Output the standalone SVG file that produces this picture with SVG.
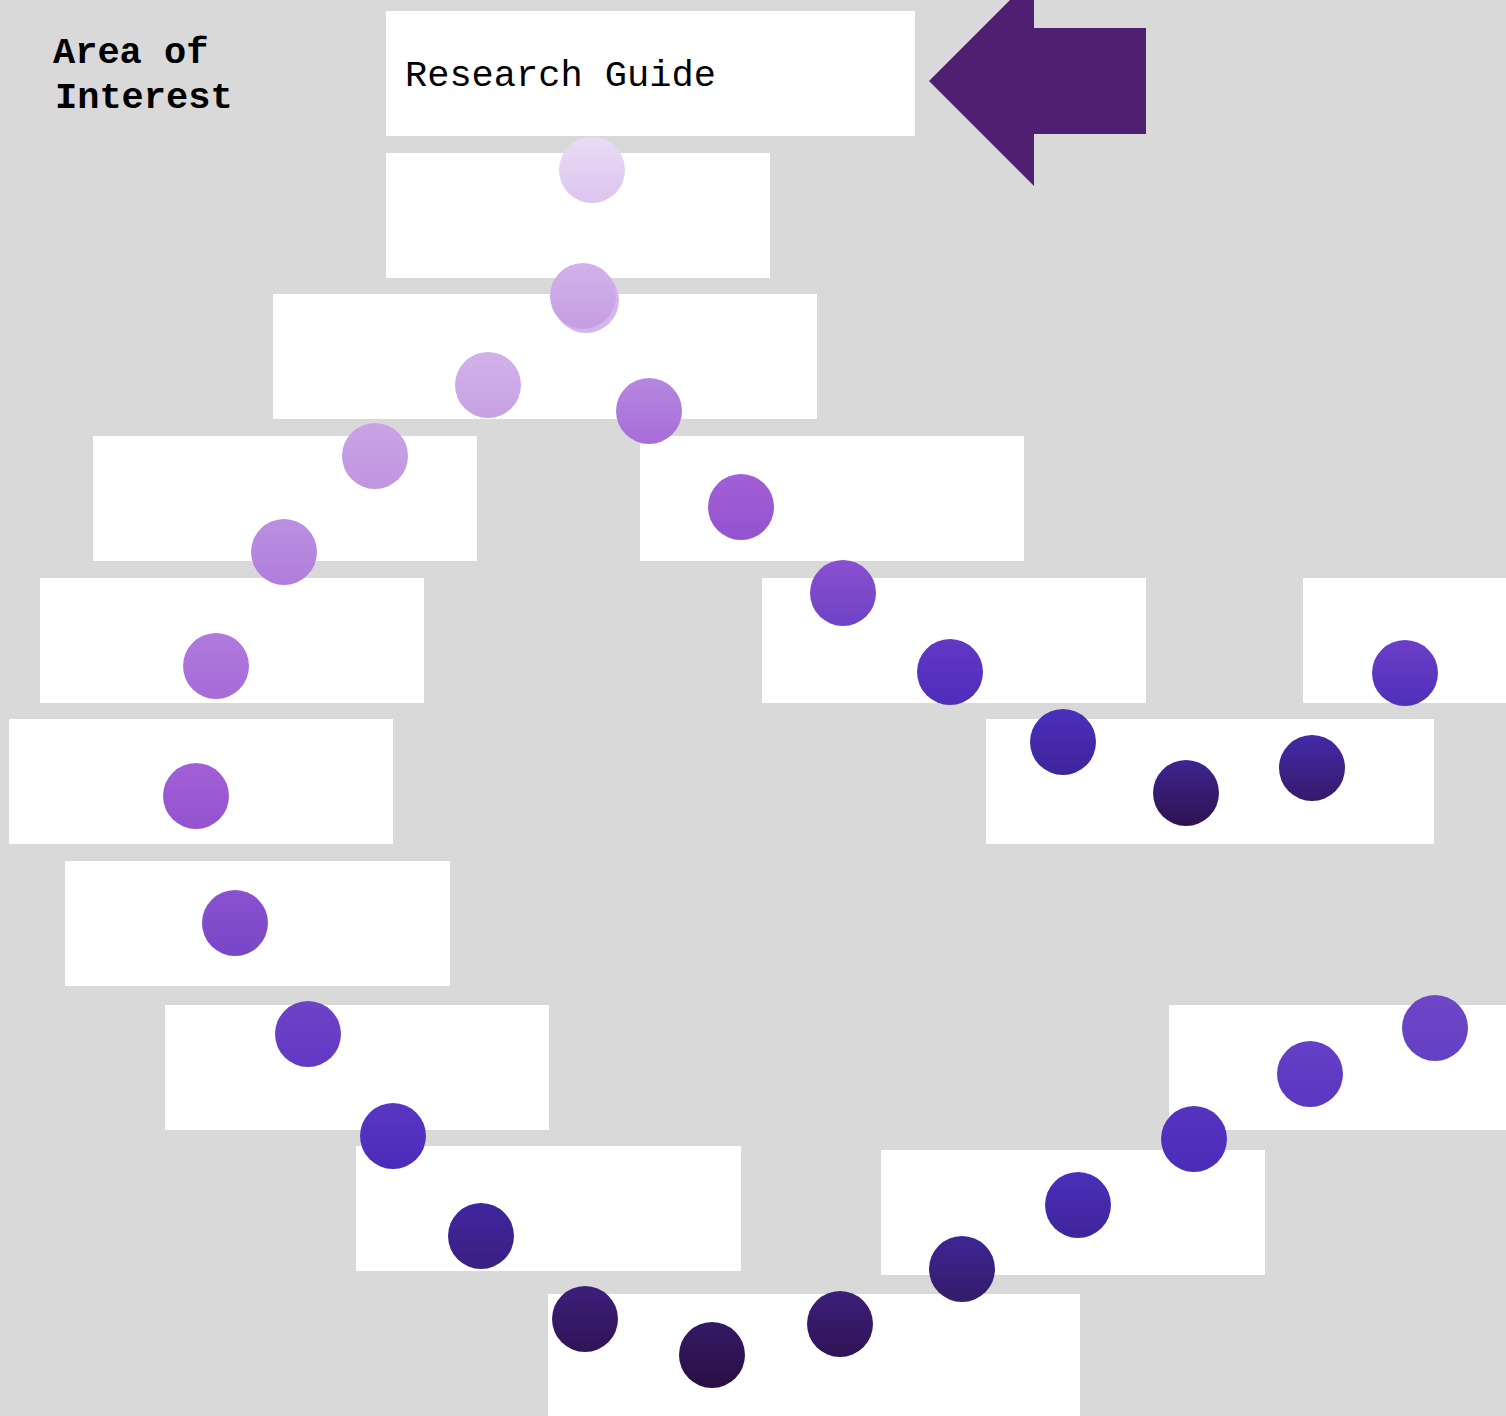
<svg xmlns="http://www.w3.org/2000/svg" width="1506" height="1416" viewBox="0 0 1506 1416">
<defs>
<style>
.box{fill:#ffffff}
.lbl{font-family:"Liberation Mono","Courier New",monospace;font-size:37px;fill:#000000}
.b{font-weight:bold}
</style>
<linearGradient id="g1" x1="0" y1="0" x2="0" y2="1"><stop offset="0" stop-color="#e9dbf5"/><stop offset="1" stop-color="#dcc4ef"/></linearGradient>
<linearGradient id="g2" x1="0" y1="0" x2="0" y2="1"><stop offset="0" stop-color="#d2b2ea"/><stop offset="1" stop-color="#c59ee3"/></linearGradient>
<linearGradient id="g3" x1="0" y1="0" x2="0" y2="1"><stop offset="0" stop-color="#d2b2ea"/><stop offset="1" stop-color="#c7a1e3"/></linearGradient>
<linearGradient id="g5" x1="0" y1="0" x2="0" y2="1"><stop offset="0" stop-color="#c9a3e6"/><stop offset="1" stop-color="#c095e0"/></linearGradient>
<linearGradient id="g7" x1="0" y1="0" x2="0" y2="1"><stop offset="0" stop-color="#bb90e0"/><stop offset="1" stop-color="#b17ddd"/></linearGradient>
<linearGradient id="g9" x1="0" y1="0" x2="0" y2="1"><stop offset="0" stop-color="#b07bdc"/><stop offset="1" stop-color="#a66ad8"/></linearGradient>
<linearGradient id="g4" x1="0" y1="0" x2="0" y2="1"><stop offset="0" stop-color="#b588de"/><stop offset="1" stop-color="#a86cd9"/></linearGradient>
<linearGradient id="g6" x1="0" y1="0" x2="0" y2="1"><stop offset="0" stop-color="#a260d6"/><stop offset="1" stop-color="#9353cf"/></linearGradient>
<linearGradient id="g8" x1="0" y1="0" x2="0" y2="1"><stop offset="0" stop-color="#8a50cf"/><stop offset="1" stop-color="#6f42c6"/></linearGradient>
<linearGradient id="g16" x1="0" y1="0" x2="0" y2="1"><stop offset="0" stop-color="#8a52cf"/><stop offset="1" stop-color="#7746c7"/></linearGradient>
<linearGradient id="g17" x1="0" y1="0" x2="0" y2="1"><stop offset="0" stop-color="#6d44c7"/><stop offset="1" stop-color="#6238c4"/></linearGradient>
<linearGradient id="g10" x1="0" y1="0" x2="0" y2="1"><stop offset="0" stop-color="#6238c4"/><stop offset="1" stop-color="#4f2cba"/></linearGradient>
<linearGradient id="g11" x1="0" y1="0" x2="0" y2="1"><stop offset="0" stop-color="#6b40c6"/><stop offset="1" stop-color="#4f2fbb"/></linearGradient>
<linearGradient id="g18" x1="0" y1="0" x2="0" y2="1"><stop offset="0" stop-color="#7045c7"/><stop offset="1" stop-color="#6340c4"/></linearGradient>
<linearGradient id="g19" x1="0" y1="0" x2="0" y2="1"><stop offset="0" stop-color="#6540c6"/><stop offset="1" stop-color="#5a36c2"/></linearGradient>
<linearGradient id="g20" x1="0" y1="0" x2="0" y2="1"><stop offset="0" stop-color="#5a36c2"/><stop offset="1" stop-color="#4a2cba"/></linearGradient>
<linearGradient id="g21" x1="0" y1="0" x2="0" y2="1"><stop offset="0" stop-color="#5534bf"/><stop offset="1" stop-color="#4a2cba"/></linearGradient>
<linearGradient id="g13" x1="0" y1="0" x2="0" y2="1"><stop offset="0" stop-color="#4a2fbc"/><stop offset="1" stop-color="#3f2599"/></linearGradient>
<linearGradient id="g22" x1="0" y1="0" x2="0" y2="1"><stop offset="0" stop-color="#40269f"/><stop offset="1" stop-color="#3a2080"/></linearGradient>
<linearGradient id="g24" x1="0" y1="0" x2="0" y2="1"><stop offset="0" stop-color="#3f2595"/><stop offset="1" stop-color="#331c6a"/></linearGradient>
<linearGradient id="g15" x1="0" y1="0" x2="0" y2="1"><stop offset="0" stop-color="#432aa8"/><stop offset="1" stop-color="#37196a"/></linearGradient>
<linearGradient id="g14" x1="0" y1="0" x2="0" y2="1"><stop offset="0" stop-color="#3e2590"/><stop offset="1" stop-color="#2e1250"/></linearGradient>
<linearGradient id="g25" x1="0" y1="0" x2="0" y2="1"><stop offset="0" stop-color="#3c1f7a"/><stop offset="1" stop-color="#2f1456"/></linearGradient>
<linearGradient id="g26" x1="0" y1="0" x2="0" y2="1"><stop offset="0" stop-color="#331a64"/><stop offset="1" stop-color="#2a0e44"/></linearGradient>
</defs>
<rect x="0" y="0" width="1506" height="1416" fill="#d9d9d9"/>
<g id="boxes">
<g id="box1"><rect class="box" x="386" y="11" width="529" height="125"/><text class="lbl" x="405" y="86">Research Guide</text></g>
<g id="box2"><rect class="box" x="386" y="153" width="384" height="125"/></g>
<g id="box3"><rect class="box" x="273" y="294" width="544" height="125"/></g>
<g id="box4"><rect class="box" x="93" y="436" width="384" height="125"/></g>
<g id="box5"><rect class="box" x="640" y="436" width="384" height="125"/></g>
<g id="box6"><rect class="box" x="40" y="578" width="384" height="125"/></g>
<g id="box7"><rect class="box" x="762" y="578" width="384" height="125"/></g>
<g id="box8"><rect class="box" x="1303" y="578" width="210" height="125"/></g>
<g id="box9"><rect class="box" x="9" y="719" width="384" height="125"/></g>
<g id="box10"><rect class="box" x="986" y="719" width="448" height="125"/></g>
<g id="box11"><rect class="box" x="65" y="861" width="385" height="125"/></g>
<g id="box12"><rect class="box" x="165" y="1005" width="384" height="125"/></g>
<g id="box13"><rect class="box" x="1169" y="1005" width="345" height="125"/></g>
<g id="box14"><rect class="box" x="356" y="1146" width="385" height="125"/></g>
<g id="box15"><rect class="box" x="881" y="1150" width="384" height="125"/></g>
<g id="box16"><rect class="box" x="548" y="1294" width="532" height="130"/></g>
</g>
<g id="title"><text class="lbl b" x="53" y="63">Area of</text><text class="lbl b" x="55" y="108">Interest</text></g>
<g id="arrow"><polygon points="929,81 1034,-24 1034,28 1146,28 1146,134 1034,134 1034,186" fill="#4f1f71"/></g>
<g id="dots">
<circle cx="592" cy="170" r="33" fill="url(#g1)"/>
<circle cx="586" cy="300" r="33" fill="#d5b6ec"/>
<circle cx="583" cy="296" r="33" fill="url(#g2)"/>
<circle cx="488" cy="385" r="33" fill="url(#g3)"/>
<circle cx="649" cy="411" r="33" fill="url(#g4)"/>
<circle cx="375" cy="456" r="33" fill="url(#g5)"/>
<circle cx="741" cy="507" r="33" fill="url(#g6)"/>
<circle cx="284" cy="552" r="33" fill="url(#g7)"/>
<circle cx="843" cy="593" r="33" fill="url(#g8)"/>
<circle cx="216" cy="666" r="33" fill="url(#g9)"/>
<circle cx="950" cy="672" r="33" fill="url(#g10)"/>
<circle cx="1405" cy="673" r="33" fill="url(#g11)"/>
<circle cx="196" cy="796" r="33" fill="url(#g6)"/>
<circle cx="1063" cy="742" r="33" fill="url(#g13)"/>
<circle cx="1186" cy="793" r="33" fill="url(#g14)"/>
<circle cx="1312" cy="768" r="33" fill="url(#g15)"/>
<circle cx="235" cy="923" r="33" fill="url(#g16)"/>
<circle cx="308" cy="1034" r="33" fill="url(#g17)"/>
<circle cx="1435" cy="1028" r="33" fill="url(#g18)"/>
<circle cx="1310" cy="1074" r="33" fill="url(#g19)"/>
<circle cx="393" cy="1136" r="33" fill="url(#g20)"/>
<circle cx="1194" cy="1139" r="33" fill="url(#g21)"/>
<circle cx="481" cy="1236" r="33" fill="url(#g22)"/>
<circle cx="1078" cy="1205" r="33" fill="url(#g13)"/>
<circle cx="962" cy="1269" r="33" fill="url(#g24)"/>
<circle cx="585" cy="1319" r="33" fill="url(#g25)"/>
<circle cx="712" cy="1355" r="33" fill="url(#g26)"/>
<circle cx="840" cy="1324" r="33" fill="url(#g25)"/>
</g>
</svg>
